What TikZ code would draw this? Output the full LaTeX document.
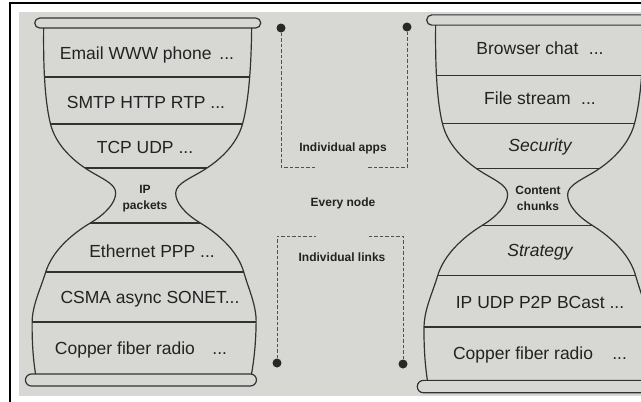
\documentclass[tikz,border=0pt]{standalone}
\usepackage{fontspec}
\setmainfont{Liberation Sans}

\definecolor{paper}{RGB}{215,215,211}
\definecolor{ink}{RGB}{50,50,50}
\definecolor{txt}{RGB}{34,34,34}

% left half of one hourglass outline, centred on x = 0 (y grows downwards)
\newcommand\glassside{(-104,28) .. controls (-104,75) and (-101,105) .. (-96,124)
  .. controls (-91,143) and (-76,158) .. (-61,168)
  .. controls (-46,178) and (-30,183) .. (-30,193)
  .. controls (-30,203) and (-40,214) .. (-55,223)
  .. controls (-75,235) and (-93,252) .. (-99,272)
  .. controls (-104,289) and (-112,305) .. (-112,322)
  .. controls (-112,345) and (-110,362) .. (-108,374)}

% the whole hourglass: rims, both sides and the layer dividers
\newcommand\hourglass{%
  \draw[outline] \glassside;
  \draw[outline,xscale=-1] \glassside;
  \draw[outline,rounded corners=5pt] (-113,18) rectangle (113,28);
  \draw[outline,rounded corners=6pt] (-118,374) rectangle (113,386);
  \draw[outline] (-102.5,77) -- (102.5,77);
  \draw[outline] (-96,124) -- (96,124);
  \draw[outline] (-61,168) -- (61,168);
  \draw[outline] (-55,223) -- (55,223);
  \draw[outline] (-99,272) -- (99,272);
  \draw[outline] (-112,322) -- (112,322);
}

\begin{document}
\begin{tikzpicture}[x=1pt,y=-1pt,
  outline/.style={draw=ink,line width=1.2pt},
  layer/.style={text=txt,anchor=base,inner sep=0pt,font=\fontsize{17.5}{20}\selectfont},
  waist/.style={text=txt,align=center,inner sep=0pt,font=\fontsize{12}{16}\selectfont\bfseries},
  note/.style={text=txt,anchor=base,inner sep=0pt,font=\fontsize{12}{14}\selectfont\bfseries},
  dot/.style={circle,fill=ink!80!black,inner sep=0pt,minimum size=9pt},
  tether/.style={draw=ink!85,line width=0.9pt,dash pattern=on 3.5pt off 2pt}]

\useasboundingbox (0,0) rectangle (641,402);
\clip (0,0) rectangle (641,402);

% page and photo area
\fill[white] (0,0) rectangle (641,402);
\fill[paper] (19,12) rectangle (641,396);
\draw[black,line width=2pt] (10,3) -- (645,3);
\draw[black,line width=1.5pt] (10,2) -- (10,405);

% internet hourglass
\begin{scope}[shift={(148,0)},xslant=0.012]
  \hourglass
\end{scope}

% content-centric hourglass
\begin{scope}[shift={(540,-3.6)},xslant=0.012,yscale=1.0267]
  \hourglass
\end{scope}

% layer labels, internet
\node[layer] (e1) at (147,59) {Email WWW phone\hspace{0.45em}...};
\node[layer] (e2) at (146,108) {SMTP HTTP RTP ...};
\node[layer] (e3) at (145,153) {TCP UDP ...};
\node[waist] (e4) at (145,199) {IP\\packets};
\node[layer] (e5) at (152,257) {Ethernet PPP ...};
\node[layer] (e6) at (150,303) {CSMA async SONET...};
\node[layer] (e7) at (141,354) {Copper fiber radio\hspace{1em}...};

% layer labels, content-centric
\node[layer] (c1) at (540,54) {Browser chat\hspace{0.6em}...};
\node[layer] (c2) at (540,104) {File stream\hspace{0.6em}...};
\node[layer] (c3) at (540,151) {\itshape Security};
\node[waist] (c4) at (538,198) {Content\\chunks};
\node[layer] (c5) at (540,256) {\itshape Strategy};
\node[layer] (c6) at (540,308) {IP UDP P2P BCast ...};
\node[layer] (c7) at (540,359) {Copper fiber radio\hspace{1.1em}...};

% middle column: scope brackets
\node[dot] (a1) at (281,28) {};
\node[dot] (a2) at (407,27) {};
\coordinate (a1e) at (315,167);
\coordinate (a2e) at (367,167);
\draw[tether] (a1) |- (a1e);
\draw[tether] (a2) |- (a2e);

\node[dot] (b1) at (277,363) {};
\node[dot] (b2) at (403,364) {};
\coordinate (b1e) at (316,236);
\coordinate (b2e) at (368,236);
\draw[tether] (b1) |- (b1e);
\draw[tether] (b2) |- (b2e);

\node[note] (m1) at (343,151) {Individual apps};
\node[note] (m2) at (343,206) {Every node};
\node[note] (m3) at (342,261) {Individual links};
\end{tikzpicture}
\end{document}
